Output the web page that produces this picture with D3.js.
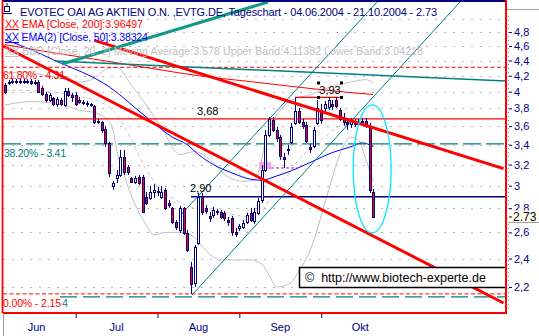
<!DOCTYPE html>
<html>
<head>
<meta charset="utf-8">
<script src="https://cdn.jsdelivr.net/npm/d3@7"></script>
<style>
  body { margin: 0; background: #fff; }
  svg { display: block; font-family: "Liberation Sans", Arial, sans-serif; }
</style>
</head>
<body>
<div id="chart"></div>
<script>
// ---- data (daily candles 04.06.2004 - 21.10.2004, index = trading day) ----
const open = [4.083,4.108,4.121,4.133,4.121,4.133,4.121,4.133,4.108,4.121,
  4.046,3.972,3.900,3.924,3.853,3.900,3.841,4.009,3.960,3.960,
  3.900,3.876,3.865,3.853,3.829,3.657,3.646,3.569,3.420,2.998,
  3.072,3.100,3.276,3.177,3.072,3.035,3.081,3.081,2.899,2.890,
  2.943,2.943,2.899,2.961,2.846,2.803,2.685,2.620,2.803,2.596,
  2.340,2.228,2.518,2.907,2.803,2.735,2.743,2.777,2.768,2.760,
  2.701,2.718,2.604,2.636,2.644,2.685,2.760,2.693,2.760,2.872,
  3.148,3.504,3.668,3.558,3.483,3.276,3.347,3.430,3.635,3.771,
  3.646,3.613,3.378,3.388,3.635,3.782,3.806,3.818,3.853,3.900,
  3.782,3.691,3.646,3.624,3.657,3.624,3.646,3.657,3.602,2.943]
const high = [4.108,4.146,4.158,4.158,4.171,4.158,4.158,4.158,4.146,4.146,
  4.071,3.996,3.984,3.936,3.936,3.924,4.046,4.046,3.984,3.996,
  3.936,3.900,3.888,3.865,3.841,3.680,3.657,3.602,3.430,3.044,
  3.148,3.347,3.347,3.196,3.081,3.091,3.100,3.100,2.943,2.998,
  3.016,2.989,2.998,2.980,2.872,2.811,2.701,2.820,2.811,2.620,
  2.376,2.502,2.934,2.934,2.828,2.768,2.811,2.794,2.785,2.777,
  2.726,2.735,2.636,2.668,2.701,2.760,2.803,2.803,2.890,3.196,
  3.558,3.702,3.702,3.591,3.504,3.316,3.398,3.635,3.930,3.806,
  3.680,3.646,3.409,3.591,3.900,3.853,3.888,3.936,3.900,3.936,
  3.806,3.748,3.680,3.691,3.680,3.680,3.691,3.691,3.635,2.970]
const low = [3.972,4.083,4.096,4.096,4.096,4.096,4.096,4.083,4.083,3.984,
  3.948,3.876,3.876,3.829,3.818,3.829,3.818,3.936,3.876,3.829,
  3.853,3.841,3.818,3.818,3.624,3.624,3.526,3.378,3.081,2.961,
  3.025,3.081,3.100,3.100,3.025,3.016,3.007,2.760,2.828,2.872,
  2.890,2.907,2.881,2.785,2.803,2.668,2.620,2.596,2.580,2.449,
  2.154,2.201,2.502,2.743,2.752,2.685,2.718,2.743,2.710,2.693,
  2.652,2.572,2.564,2.612,2.628,2.668,2.685,2.668,2.743,2.846,
  3.129,3.483,3.536,3.430,3.246,3.167,3.296,3.409,3.613,3.624,
  3.569,3.420,3.316,3.367,3.613,3.624,3.759,3.782,3.782,3.806,
  3.657,3.602,3.558,3.580,3.591,3.602,3.624,3.580,2.934,2.726]
const close = [3.996,4.121,4.133,4.121,4.133,4.121,4.133,4.108,4.121,3.996,
  3.972,3.900,3.960,3.853,3.912,3.853,4.009,3.960,3.936,3.853,
  3.876,3.865,3.853,3.841,3.646,3.646,3.558,3.420,3.119,3.025,
  3.100,3.276,3.129,3.129,3.035,3.072,3.025,2.768,2.846,2.943,
  2.961,2.952,2.943,2.803,2.828,2.685,2.644,2.803,2.596,2.464,
  2.221,2.487,2.899,2.768,2.777,2.718,2.785,2.768,2.726,2.718,
  2.685,2.604,2.588,2.652,2.677,2.743,2.701,2.768,2.863,3.148,
  3.504,3.680,3.558,3.472,3.286,3.256,3.357,3.591,3.771,3.646,
  3.602,3.441,3.357,3.558,3.806,3.668,3.853,3.900,3.829,3.829,
  3.680,3.646,3.624,3.657,3.624,3.646,3.657,3.602,2.961,2.730]

// indicator lines: [day index, value]
const ema200 = [[0,4.62],[10,4.53],[20,4.45],[30,4.37],[40,4.29],[52,4.20],[65,4.13],[78,4.06],[88,4.01],[99,3.965]]
const ema50 = [[0,4.69],[7,4.55],[13,4.41],[28,4.06],[38,3.70],[45,3.48],[49,3.40],[52,3.30],[56,3.20],[61,3.12],
  [66,3.06],[69,3.05],[73,3.09],[77,3.14],[82,3.22],[88,3.32],[93,3.38],[96,3.42],[99,3.38]]
const bbUpper = [[0,4.21],[4,4.25],[9,4.22],[15,4.17],[20,4.12],[24,4.17],[27,4.28],[30,4.31],[34,4.08],[38,3.84],
  [42,3.59],[47,3.30],[51,3.33],[55,3.25],[60,3.08],[64,3.04],[67,3.05],[69,3.25],[70,3.45],[72,3.65],[74,3.78],
  [77,3.90],[82,3.96],[87,4.05],[93,4.12],[97,4.15],[99,4.11]]
const bbLower = [[0,3.84],[7,3.88],[15,3.85],[20,3.78],[24,3.75],[27,3.69],[29,3.56],[30,3.35],[32,3.10],[35,2.83],
  [38,2.66],[40,2.58],[43,2.60],[47,2.60],[51,2.56],[54,2.46],[58,2.39],[66,2.39],[69,2.36],[71,2.28],[73,2.20],
  [77,2.23],[78,2.27],[82,2.46],[87,2.96],[90,3.30],[93,3.48],[95,3.45],[97,3.25],[99,3.04]]
const bbMid = [[0,4.02],[12,4.00],[20,3.94],[26,3.87],[30,3.73],[34,3.45],[38,3.15],[42,2.96],[46,2.87],[51,2.80],
  [58,2.77],[65,2.73],[68,2.74],[71,2.87],[75,3.05],[79,3.25],[85,3.45],[90,3.60],[95,3.65],[99,3.58]]

// drawn trend lines / levels
const trendRedUpper = [[24,4.68],[134,3.161]]
const trendRedLower = [[-0.5,4.60],[134,2.095]]
const tealFlat = [[13.4,4.394],[134.7,4.133]]
const tealSteep = [[15.3,4.354],[70.7,5.263]]
const channelUpper = [[47,2.734],[100,5.263]]
const channelLower = [[50.3,2.147],[122.3,5.263]]
const level368 = [[-0.5,3.68],[134.7,3.68]]
const level290 = [[50,2.90],[134.7,2.90]]
const level393 = [[78,3.93],[90,3.93]]
const fibValues = [4.31, 3.41, 2.154]
const fibLabels = ["61.80% - 4.31", "38.20% - 3.41", "0.00% - 2.15"]
const pinkBoxIdx = [68.3, 71.5], pinkBoxVal = [3.226, 3.157]
const pinkDash = [[71.5,3.167],[78.5,3.167]]
const ellipseIdx = [93.6, 103.8], ellipseVal = [3.841, 2.596]

const yTicks = [2.2,2.4,2.6,2.8,3.0,3.2,3.4,3.6,3.8,4.0,4.2,4.4,4.6,4.8]
const gridLevels = yTicks.concat([5.0])
const months = ["Jun","Jul","Aug","Sep","Okt"]
const monthStart = [-2, 19, 41, 63, 85, 106]
const lastClose = 2.73

// ---- layout ----
const W = 539, H = 336
const plot = {left: 3, right: 506, top: 2, bottom: 312}
const navy = "#000080", red = "#ff0000", teal = "#008080"

const svg = d3.select("#chart").append("svg")
  .attr("width", W).attr("height", H)

const x = d3.scaleLinear().domain([0, 99]).range([5, 373.3])
const y = d3.scaleLog().domain([2.2, 4.8]).range([287, 32.1])

svg.append("clipPath").attr("id", "clip")
  .append("rect").attr("x", plot.left).attr("y", plot.top)
  .attr("width", plot.right - plot.left).attr("height", plot.bottom - plot.top)

const g = svg.append("g").attr("clip-path", "url(#clip)")

// dotted grid
g.selectAll(".grid").data(gridLevels).join("line")
  .attr("x1", plot.left).attr("x2", plot.right)
  .attr("y1", d => Math.round(y(d)) + 0.5).attr("y2", d => Math.round(y(d)) + 0.5)
  .attr("stroke", "#b8b8b8").attr("stroke-dasharray", "2,7")

const line = d3.line().x(d => x(d[0])).y(d => y(d[1]))
const curve = d3.line().x(d => x(d[0])).y(d => y(d[1])).curve(d3.curveMonotoneX)

// Bollinger bands
g.append("path").attr("d", curve(bbUpper)).attr("fill", "none").attr("stroke", "#c0c0c0")
g.append("path").attr("d", curve(bbLower)).attr("fill", "none").attr("stroke", "#c0c0c0")
g.append("path").attr("d", curve(bbMid)).attr("fill", "none").attr("stroke", "#c8c8c8")
  .attr("stroke-dasharray", "4,3")

// EMAs
g.append("path").attr("d", curve(ema200)).attr("fill", "none").attr("stroke", red)
g.append("path").attr("d", curve(ema50)).attr("fill", "none").attr("stroke", "#0000ff")

// fibonacci levels
g.append("line").attr("x1", plot.left).attr("x2", plot.right)
  .attr("y1", y(fibValues[0])).attr("y2", y(fibValues[0]))
  .attr("stroke", red).attr("stroke-dasharray", "4,2.5")
g.append("line").attr("x1", plot.left).attr("x2", plot.right)
  .attr("y1", y(fibValues[1])).attr("y2", y(fibValues[1]))
  .attr("stroke", teal).attr("stroke-width", 1.3).attr("stroke-dasharray", "18,5")
g.append("line").attr("x1", 60).attr("x2", plot.right)
  .attr("y1", y(fibValues[2]) + 3).attr("y2", y(fibValues[2]) + 3)
  .attr("stroke", teal).attr("stroke-width", 1.3).attr("stroke-dasharray", "17,6")
g.append("line").attr("x1", plot.left).attr("x2", plot.right)
  .attr("y1", y(fibValues[2])).attr("y2", y(fibValues[2]))
  .attr("stroke", red).attr("stroke-dasharray", "4,2.5")

// horizontal levels
g.append("path").attr("d", line(level368)).attr("stroke", red).attr("stroke-width", 1.3)
g.append("path").attr("d", line(level290)).attr("stroke", navy).attr("stroke-width", 1.5)
g.append("path").attr("d", line(level393)).attr("stroke", red).attr("stroke-width", 1.3)

// teal trend lines
g.append("path").attr("d", line(tealFlat)).attr("stroke", teal).attr("stroke-width", 1.5)
g.append("path").attr("d", line(channelUpper)).attr("stroke", teal).attr("stroke-width", 1)
g.append("path").attr("d", line(channelLower)).attr("stroke", teal).attr("stroke-width", 1)

// pink marker box + dashed line
g.append("rect")
  .attr("x", x(pinkBoxIdx[0])).attr("y", y(pinkBoxVal[0]))
  .attr("width", x(pinkBoxIdx[1]) - x(pinkBoxIdx[0]))
  .attr("height", y(pinkBoxVal[1]) - y(pinkBoxVal[0]))
  .attr("fill", "#f2a6ee")
g.append("path").attr("d", line(pinkDash)).attr("stroke", "#e000e0")
  .attr("stroke-dasharray", "3,2")

// candles
const candles = d3.range(open.length).map(i => ({i, o: open[i], h: high[i], l: low[i], c: close[i]}))
const cg = g.append("g")
cg.selectAll(".wick").data(candles).join("line")
  .attr("x1", d => Math.round(x(d.i)) + 0.5).attr("x2", d => Math.round(x(d.i)) + 0.5)
  .attr("y1", d => y(d.h)).attr("y2", d => y(d.l))
  .attr("stroke", navy)
cg.selectAll(".body").data(candles).join("rect")
  .attr("x", d => Math.round(x(d.i)) - 0.5)
  .attr("y", d => Math.round(y(Math.max(d.o, d.c))) + 0.5)
  .attr("width", 2)
  .attr("height", d => Math.max(1, Math.round(y(Math.min(d.o, d.c)) - y(Math.max(d.o, d.c)))))
  .attr("fill", d => d.c < d.o ? red : "#fff")
  .attr("stroke", navy)

// red trend lines and the thick teal line (drawn over the candles)
g.append("path").attr("d", line(trendRedLower)).attr("stroke", red).attr("stroke-width", 3)
g.append("path").attr("d", line(trendRedUpper)).attr("stroke", red).attr("stroke-width", 3)
g.append("path").attr("d", line(tealSteep)).attr("stroke", "#109a88").attr("stroke-width", 3)

// cyan ellipse
g.append("ellipse")
  .attr("cx", (x(ellipseIdx[0]) + x(ellipseIdx[1])) / 2)
  .attr("cy", (y(ellipseVal[0]) + y(ellipseVal[1])) / 2)
  .attr("rx", (x(ellipseIdx[1]) - x(ellipseIdx[0])) / 2)
  .attr("ry", (y(ellipseVal[1]) - y(ellipseVal[0])) / 2)
  .attr("fill", "none").attr("stroke", "#00e8ff").attr("stroke-width", 1.3)

// level labels
g.append("text").attr("x", 197).attr("y", y(3.68) - 4).attr("font-size", 11).text("3,68")
g.append("text").attr("x", 190).attr("y", y(2.90) - 5).attr("font-size", 11).text("2,90")
const y393 = y(3.93)
g.append("text").attr("x", 330).attr("y", y393 - 3).attr("font-size", 11)
  .attr("text-anchor", "middle").text("3,93")
;[[317, y393 - 16], [340, y393 - 16], [317, y393 - 1.5], [340, y393 - 1.5]].forEach(p => {
  g.append("rect").attr("x", p[0]).attr("y", p[1]).attr("width", 3).attr("height", 3).attr("fill", "#000")
})

// fibonacci labels
g.append("text").attr("x", 3).attr("y", y(fibValues[0]) + 12).attr("font-size", 10.5)
  .attr("fill", red).attr("textLength", 62).text(fibLabels[0])
g.append("text").attr("x", 4).attr("y", y(fibValues[1]) + 13).attr("font-size", 10.5)
  .attr("fill", teal).attr("textLength", 62).text(fibLabels[1])
g.append("text").attr("x", 3).attr("y", y(fibValues[2]) + 13).attr("font-size", 10.5)
  .attr("fill", red).attr("textLength", 58).text(fibLabels[2])
g.append("text").attr("x", 62).attr("y", y(fibValues[2]) + 13).attr("font-size", 10.5)
  .attr("fill", teal).text("4")

// copyright box
g.append("rect").attr("x", 299.5).attr("y", 267.5).attr("width", 207).attr("height", 20)
  .attr("fill", "#fff").attr("stroke", "#000").attr("stroke-width", 1.5)
g.append("text").attr("x", 305).attr("y", 282).attr("font-size", 12.5)
  .attr("xml:space", "preserve").text("\u00a9  http://www.biotech-experte.de")

// ---- frame ----
svg.append("line").attr("x1", plot.left).attr("x2", plot.right).attr("y1", 1).attr("y2", 1)
  .attr("stroke", navy).attr("stroke-width", 2)
svg.append("line").attr("x1", 2.5).attr("x2", 2.5).attr("y1", 0).attr("y2", plot.bottom + 1)
  .attr("stroke", red).attr("stroke-width", 1.8)
svg.append("line").attr("x1", plot.right).attr("x2", plot.right).attr("y1", 0).attr("y2", plot.bottom + 2)
  .attr("stroke", red).attr("stroke-width", 2)
svg.append("line").attr("x1", plot.left).attr("x2", plot.right + 1).attr("y1", plot.bottom + 1).attr("y2", plot.bottom + 1)
  .attr("stroke", red).attr("stroke-width", 2)
svg.append("line").attr("x1", 3.5).attr("x2", 3.5).attr("y1", plot.bottom + 2).attr("y2", H)
  .attr("stroke", "#a0a0a0")
svg.append("line").attr("x1", plot.right + 1).attr("x2", W).attr("y1", 9.5).attr("y2", 9.5)
  .attr("stroke", "#a0a0a0")

// ---- right axis ----
svg.append("line").attr("x1", 508.5).attr("x2", 508.5).attr("y1", 16).attr("y2", plot.bottom)
  .attr("stroke", "#909090").attr("stroke-dasharray", "1,3")
const yAxis = svg.append("g").attr("transform", "translate(509,0)")
  .call(d3.axisRight(y).tickValues(yTicks).tickSize(3).tickPadding(2)
    .tickFormat(d => Number.isInteger(d) ? String(d) : d.toFixed(1).replace(".", ",")))
yAxis.select(".domain").remove()
yAxis.selectAll("line").attr("stroke", navy)
yAxis.selectAll("text").attr("fill", navy).attr("font-size", 11)
  .attr("font-family", "Liberation Sans, Arial, sans-serif")

// last close marker
const yLast = y(lastClose)
svg.append("rect").attr("x", 508).attr("y", yLast - 6).attr("width", 31).attr("height", 12)
  .attr("fill", "#ffffe4")
svg.append("line").attr("x1", 508).attr("x2", W).attr("y1", Math.round(yLast) + 6.5).attr("y2", Math.round(yLast) + 6.5)
  .attr("stroke", "#a0a0a0")
svg.append("line").attr("x1", 509).attr("x2", 512).attr("y1", yLast + 0.5).attr("y2", yLast + 0.5)
  .attr("stroke", navy)
svg.append("text").attr("x", 513).attr("y", yLast + 5).attr("font-size", 12)
  .attr("fill", "#000040").text(lastClose.toFixed(2))

// ---- bottom axis ----
const xTicks = svg.append("g").attr("transform", `translate(0,${plot.bottom + 2})`)
  .call(d3.axisBottom(x).tickValues(monthStart.slice(1, 5)).tickSize(4).tickFormat(""))
xTicks.select(".domain").remove()
xTicks.selectAll("line").attr("stroke", navy)
svg.selectAll(".month").data(months).join("text")
  .attr("x", (d, i) => x((monthStart[i] + monthStart[i + 1]) / 2))
  .attr("y", 331).attr("text-anchor", "middle").attr("font-size", 11)
  .attr("fill", navy).text(d => d)

// ---- title and legend ----
svg.append("rect").attr("x", 4.5).attr("y", 6.5).attr("width", 5).attr("height", 5)
  .attr("fill", "none").attr("stroke", navy)
svg.append("line").attr("x1", 3).attr("x2", 12).attr("y1", 13.5).attr("y2", 13.5).attr("stroke", navy)
svg.append("line").attr("x1", 7).attr("x2", 7).attr("y1", 3).attr("y2", 6.5).attr("stroke", navy)
svg.append("text").attr("x", 20).attr("y", 16).attr("font-size", 11).attr("fill", navy)
  .attr("textLength", 417).text("EVOTEC OAI AG AKTIEN O.N. ,EVTG.DE, Tageschart - 04.06.2004 - 21.10.2004 - 2.73")

function legend(yPos, color, rest, len) {
  const t = svg.append("text").attr("x", 5).attr("y", yPos).attr("font-size", 10.6)
    .attr("fill", color).attr("textLength", len)
  t.append("tspan").attr("text-decoration", "underline").text("XX")
  t.append("tspan").text(" " + rest)
}
legend(28, red, "EMA [Close, 200]:3.96497", 138)
legend(41, "#0000ff", "EMA(2) [Close, 50]:3.38324", 143)
legend(55, "#c0c0c0", "BBD [Close, 20, 2] Moving Average:3.578 Upper Band:4.11382 Lower Band:3.04218", 418)
</script>
</body>
</html>
